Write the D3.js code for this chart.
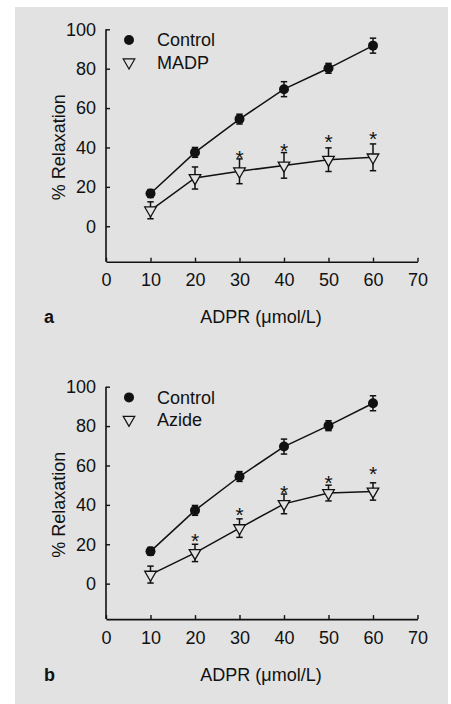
<!DOCTYPE html>
<html>
<head>
<meta charset="utf-8">
<script src="https://cdn.jsdelivr.net/npm/d3@7"></script>
<style>
  html, body { margin: 0; padding: 0; background: #ffffff; }
  svg { display: block; }
  text { font-family: "Liberation Sans", Arial, sans-serif; fill: #111; }
</style>
</head>
<body>
<svg id="chart" width="451" height="704"></svg>
<script>
// ---- data ----
const doses = [10, 20, 30, 40, 50, 60];
const xTicks = [0, 10, 20, 30, 40, 50, 60, 70];
const yTicks = [0, 20, 40, 60, 80, 100];

const controlA = [16.6, 37.5, 54.4, 69.6, 80.2, 91.7];
const controlAErr = [2.0, 2.5, 2.5, 3.8, 2.5, 3.8];
const madp = [8.1, 24.5, 27.9, 30.9, 33.8, 35.0];
const madpErr = [4.3, 5.6, 6.3, 6.5, 6.0, 6.8];
const madpStars = [null, null, 37.5, 41.4, 45.6, 47.6];

const controlB = [16.4, 37.2, 54.4, 69.6, 80.2, 91.6];
const controlBErr = [2.0, 2.5, 2.5, 3.8, 2.5, 3.8];
const azide = [4.6, 15.6, 28.2, 40.5, 46.0, 46.8];
const azideErr = [4.3, 4.4, 4.7, 5.0, 4.0, 4.4];
const azideStars = [null, 24.8, 37.9, 49.3, 54.4, 58.6];

const panelLetters = ["a", "b"];
const treatNames = ["MADP", "Azide"];
const xTitle = "ADPR (\u03bcmol/L)";
const yTitle = "% Relaxation";

// ---- drawing ----
const svg = d3.select("#chart");
const bg = "#e2e2e2";
svg.append("rect").attr("x", 15).attr("y", 7).attr("width", 433).attr("height", 697).attr("fill", bg);

const fs = 18;
const x = d3.scaleLinear().domain([0, 70]).range([106, 417.5]);

function panel(top, letter, ctrl, ctrlErr, trt, trtErr, stars, trtName) {
  const y = d3.scaleLinear().domain([-18, 100]).range([top + 232.4, top]);
  const g = svg.append("g");

  // axes
  const xa = g.append("g").attr("transform", `translate(0,${y(-18)})`)
    .call(d3.axisBottom(x).tickValues(xTicks).tickSizeInner(-4).tickSizeOuter(0).tickPadding(12));
  const ya = g.append("g").attr("transform", `translate(${x(0)},0)`)
    .call(d3.axisLeft(y).tickValues(yTicks).tickSizeInner(-4).tickSizeOuter(0).tickPadding(10));
  [xa, ya].forEach(a => {
    a.select(".domain").attr("stroke", "#111").attr("stroke-width", 1.6);
    a.selectAll(".tick line").attr("stroke", "#111").attr("stroke-width", 1.4);
    a.selectAll(".tick text").attr("font-size", fs).attr("font-family", "Liberation Sans, Arial, sans-serif").attr("fill", "#111");
  });
  ya.select(".domain").attr("d", `M0,${y(100)}V${y(-18)}`);

  // titles
  g.append("text").attr("x", 261).attr("y", top + 294).attr("text-anchor", "middle").attr("font-size", fs).text(xTitle);
  g.append("text").attr("x", 44).attr("y", top + 294).attr("font-size", fs).attr("font-weight", "bold").text(letter);
  g.append("text").attr("transform", `translate(65,${top + 118}) rotate(-90)`).attr("text-anchor", "middle").attr("font-size", fs).text(yTitle);

  const line = d3.line().x((d, i) => x(doses[i])).y(d => y(d));
  const series = [
    {vals: ctrl, err: ctrlErr},
    {vals: trt, err: trtErr}
  ];
  series.forEach(s => {
    g.append("path").attr("d", line(s.vals)).attr("fill", "none").attr("stroke", "#111").attr("stroke-width", 1.5);
    s.vals.forEach((v, i) => {
      const cx = x(doses[i]);
      const e = s.err[i];
      g.append("line").attr("x1", cx).attr("x2", cx).attr("y1", y(v + e)).attr("y2", y(v - e)).attr("stroke", "#111").attr("stroke-width", 1.5);
      [v + e, v - e].forEach(w => {
        g.append("line").attr("x1", cx - 3.2).attr("x2", cx + 3.2).attr("y1", y(w)).attr("y2", y(w)).attr("stroke", "#111").attr("stroke-width", 1.5);
      });
    });
  });
  ctrl.forEach((v, i) => {
    g.append("circle").attr("cx", x(doses[i])).attr("cy", y(v)).attr("r", 5).attr("fill", "#111");
  });
  const tri = d3.symbol().type(d3.symbolTriangle).size(58);
  trt.forEach((v, i) => {
    g.append("path").attr("d", tri()).attr("transform", `translate(${x(doses[i])},${y(v)}) rotate(180)`)
      .attr("fill", bg).attr("stroke", "#111").attr("stroke-width", 1.3);
  });
  stars.forEach((v, i) => {
    if (v == null) return;
    g.append("text").attr("x", x(doses[i])).attr("y", y(v) + 0.62 * 21).attr("text-anchor", "middle")
      .attr("font-size", 21).text("*");
  });

  // legend
  g.append("circle").attr("cx", 129).attr("cy", top + 10.7).attr("r", 5).attr("fill", "#111");
  g.append("path").attr("d", tri()).attr("transform", `translate(129,${top + 33}) rotate(180)`)
    .attr("fill", bg).attr("stroke", "#111").attr("stroke-width", 1.2);
  g.append("text").attr("x", 157).attr("y", top + 17).attr("font-size", fs).text("Control");
  g.append("text").attr("x", 157).attr("y", top + 39.5).attr("font-size", fs).text(trtName);
}

panel(29.3, panelLetters[0], controlA, controlAErr, madp, madpErr, madpStars, treatNames[0]);
panel(386.7, panelLetters[1], controlB, controlBErr, azide, azideErr, azideStars, treatNames[1]);
</script>
</body>
</html>
